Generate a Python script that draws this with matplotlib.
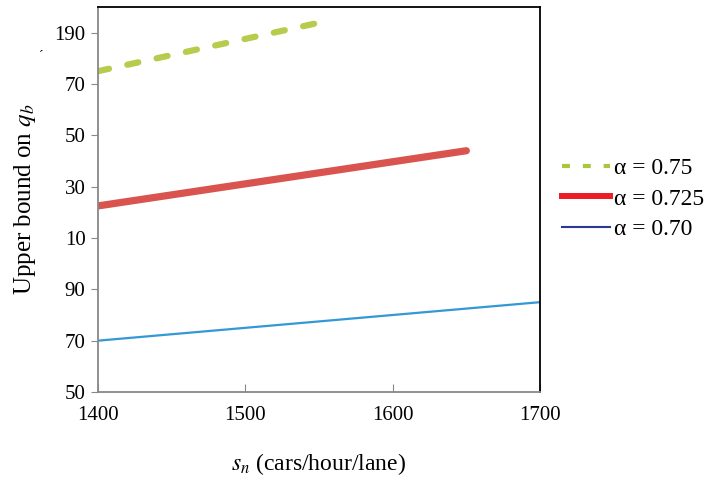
import matplotlib.pyplot as plt
from matplotlib.lines import Line2D

plt.rcParams['font.family'] = ['Liberation Serif', 'DejaVu Serif']
plt.rcParams['mathtext.fontset'] = 'stix'

# data
x_green = [1400, 1551]
y_green = [1175, 1194]
x_red = [1400, 1650]
y_red = [1122.5, 1144]
x_blue = [1400, 1700]
y_blue = [1070, 1085]

x_ticks = [1400, 1500, 1600, 1700]
y_ticks = [1050, 1070, 1090, 1110, 1130, 1150, 1170, 1190]
y_tick_labels = ['50', '70', '90', '10', '30', '50', '70', '190']

legend_labels = ['α = 0.75', 'α = 0.725', 'α = 0.70']

fig = plt.figure(figsize=(7.12, 4.83), dpi=100)
ax = fig.add_axes([0.1376, 0.1884, 0.6208, 0.7971])

ax.plot(x_blue, y_blue, color='#3399d6', lw=1.6, solid_capstyle='butt')
ax.plot(x_red, y_red, color='#d9534f', lw=5.2, solid_capstyle='round')
ax.plot(x_green, y_green, color='#b5cc4c', lw=4.5, dashes=(1.8, 3.0),
        dash_capstyle='round')

ax.set_xlim(1400, 1700)
ax.set_ylim(1050, 1200)
ax.set_xticks(x_ticks)
ax.set_yticks(y_ticks)
ax.set_yticklabels(y_tick_labels)
ax.tick_params(axis='x', direction='in', length=6, color='#888888',
               labelsize=15, pad=10)
ax.tick_params(axis='y', direction='out', length=5, color='#888888',
               labelsize=15, pad=4)

for side in ['left', 'bottom']:
    ax.spines[side].set_color('#888888')
    ax.spines[side].set_linewidth(1.3)
for side in ['top', 'right']:
    ax.spines[side].set_color('black')
    ax.spines[side].set_linewidth(1.3)

ax.set_xlabel('$s_n$ (cars/hour/lane)', fontsize=17, labelpad=19)
ax.set_ylabel('Upper bound on $q_b$', fontsize=18, labelpad=12)

# stray mark near the top left
fig.text(0.055, 0.875, 'ˊ', fontsize=10)

handles = [
    Line2D([], [], color='#a9c73d', lw=3, dashes=(1.9, 3.1)),
    Line2D([], [], color='#ee1c25', lw=4.3),
    Line2D([], [], color='#2b3990', lw=1.5),
]
fig.legend(handles, legend_labels, loc='center left',
           bbox_to_anchor=(0.776, 0.588), frameon=False, fontsize=17,
           handlelength=2.05, handletextpad=0.15, labelspacing=0.38,
           borderaxespad=0)

fig.savefig('out.png', dpi=100)
